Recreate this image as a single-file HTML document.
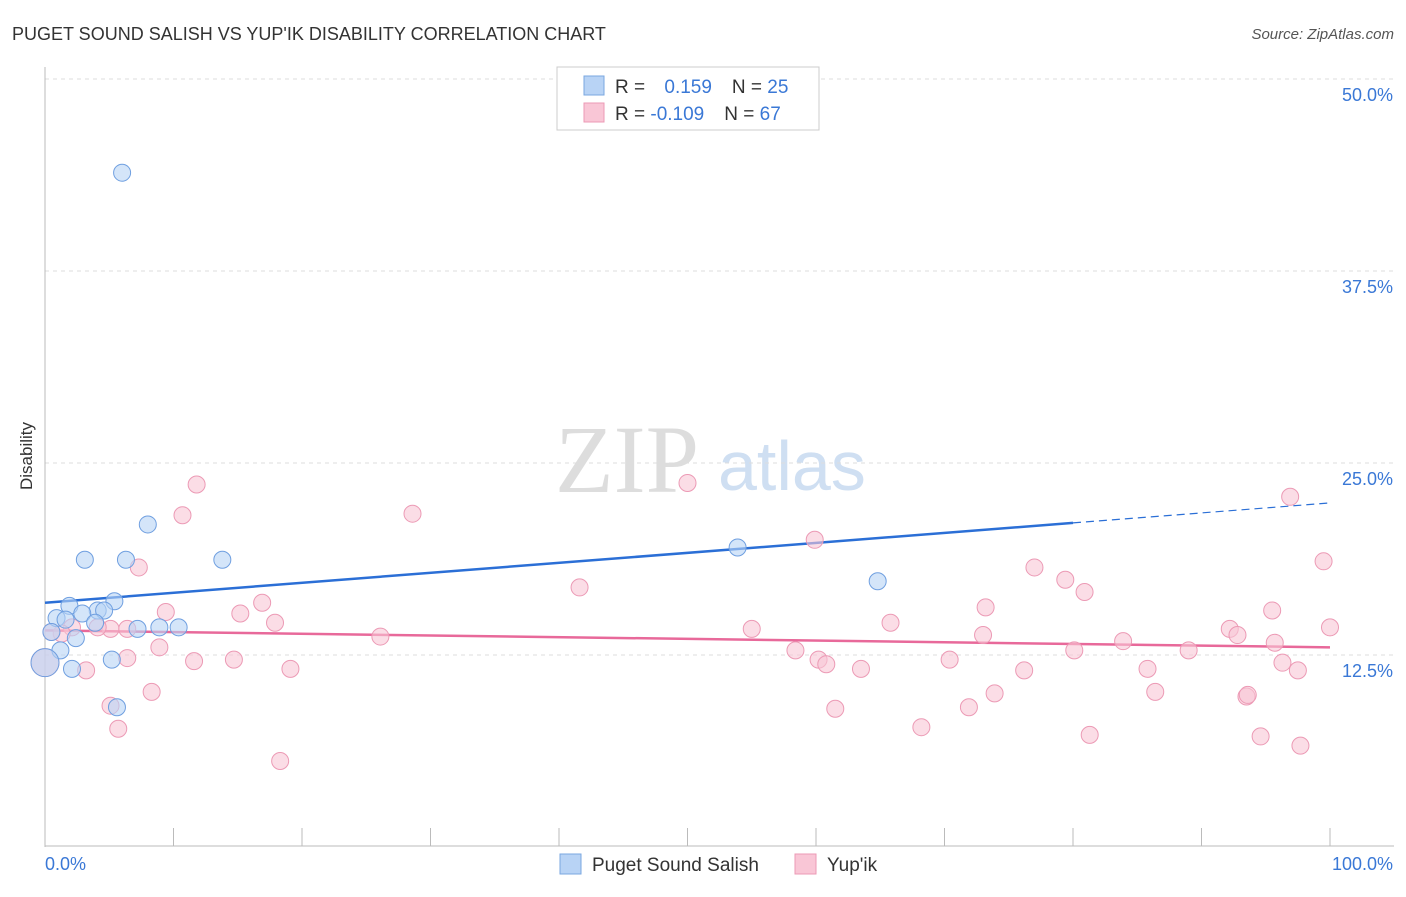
<!DOCTYPE html>
<html><head><meta charset="utf-8"><style>
body{margin:0;background:#fff;font-family:"Liberation Sans",sans-serif;}
</style></head><body>
<svg id="c" width="1406" height="892" xmlns="http://www.w3.org/2000/svg">
<text x="12" y="40" font-size="18" fill="#333">PUGET SOUND SALISH VS YUP'IK DISABILITY CORRELATION CHART</text>
<text x="1394" y="39" font-size="15" fill="#555" font-style="italic" text-anchor="end">Source: ZipAtlas.com</text>
<text x="32" y="456" font-size="17" fill="#333" transform="rotate(-90 32 456)" text-anchor="middle">Disability</text>
<text x="555" y="492" font-size="96" fill="#ddd" font-family="Liberation Serif">ZIP</text>
<text x="718" y="490" font-size="70" fill="#cfdff2">atlas</text>
<g id="grid"></g><g id="axes"></g><g id="trend"></g><g id="pts"></g>
<g>
<rect x="557" y="67" width="262" height="63" fill="#fff" stroke="#ccc"/>
<rect x="584" y="76" width="20" height="19" fill="#b8d3f5" stroke="#7aa7e0"/>
<rect x="584" y="103" width="20" height="19" fill="#f9c6d6" stroke="#ec9ab5"/>
<text x="615" y="93" font-size="19" fill="#333">R = <tspan fill="#3a78d6" dx="14">0.159</tspan><tspan dx="20" fill="#333">N = </tspan><tspan fill="#3a78d6">25</tspan></text>
<text x="615" y="120" font-size="19" fill="#333">R = <tspan fill="#3a78d6">-0.109</tspan><tspan dx="20" fill="#333">N = </tspan><tspan fill="#3a78d6">67</tspan></text>
</g>
<g>
<rect x="560" y="854" width="21" height="20" fill="#b8d3f5" stroke="#7aa7e0"/>
<text x="592" y="871" font-size="19" fill="#333">Puget Sound Salish</text>
<rect x="795" y="854" width="21" height="20" fill="#f9c6d6" stroke="#ec9ab5"/>
<text x="827" y="871" font-size="19" fill="#333">Yup'ik</text>
</g>
</svg>
<script>
const yTicks=[12.5,25,37.5,50];
const yTickLabels=["12.5%","25.0%","37.5%","50.0%"];
const blueX=[6.0,8.0,3.1,6.3,13.8,53.9,64.8,5.4,1.9,4.1,4.6,2.9,0.9,1.6,3.9,8.9,10.4,7.2,0.5,2.4,1.2,5.2,2.1,5.6,0];
const blueY=[43.9,21.0,18.7,18.7,18.7,19.5,17.3,16.0,15.7,15.4,15.4,15.2,14.9,14.8,14.6,14.3,14.3,14.2,14.0,13.6,12.8,12.2,11.6,9.1,12.0];
const pinkX=[11.8,10.7,7.3,28.6,50.0,59.9,41.6,16.9,9.4,15.2,17.9,5.1,6.4,4.1,2.1,1.3,0.5,26.1,8.9,6.4,11.6,14.7,19.1,3.2,8.3,5.1,5.7,18.3,55.0,58.4,60.2,60.8,61.5,63.5,65.8,68.2,70.4,71.9,73.0,73.2,73.9,76.2,77.0,79.4,80.9,80.1,81.3,83.9,85.8,86.4,89.0,92.2,92.8,93.5,93.6,94.6,95.5,95.7,96.3,96.9,97.5,97.7,99.5,100,0];
const pinkY=[23.6,21.6,18.2,21.7,23.7,20.0,16.9,15.9,15.3,15.2,14.6,14.2,14.2,14.3,14.3,13.9,14.0,13.7,13.0,12.3,12.1,12.2,11.6,11.5,10.1,9.2,7.7,5.6,14.2,12.8,12.2,11.9,9.0,11.6,14.6,7.8,12.2,9.1,13.8,15.6,10.0,11.5,18.2,17.4,16.6,12.8,7.3,13.4,11.6,10.1,12.8,14.2,13.8,9.8,9.9,7.2,15.4,13.3,12.0,22.8,11.5,6.6,18.6,14.3,12.0];
const X=v=>45+v*12.85, Y=v=>847-v*192/12.5;
const NS="http://www.w3.org/2000/svg";
function mk(p,t,a){const e=document.createElementNS(NS,t);for(const k in a)e.setAttribute(k,a[k]);document.getElementById(p).appendChild(e);return e;}
yTicks.forEach((t,i)=>{
 const l=mk('grid','line',{x1:45,x2:1394,y1:Y(t),y2:Y(t),stroke:'#ddd','stroke-dasharray':'4 4'});
 
 
 const tx=mk('grid','text',{x:1393,y:Y(t)+22,'font-size':18,fill:'#3a78d6','text-anchor':'end'});
 tx.textContent=yTickLabels[i];
 
 
});
mk('axes','line',{x1:45,x2:45,y1:67,y2:847,stroke:'#bbb'});
mk('axes','line',{x1:45,x2:1394,y1:846,y2:846,stroke:'#bbb'});
for(let i=1;i<=10;i++){mk('axes','line',{x1:X(i*10),x2:X(i*10),y1:828,y2:846,stroke:'#bbb'});}
let t0=mk('axes','text',{x:45,y:870,'font-size':18,fill:'#3a78d6'});t0.textContent='0.0%';


let t1=mk('axes','text',{x:1393,y:870,'font-size':18,fill:'#3a78d6','text-anchor':'end'});t1.textContent='100.0%';


pinkX.forEach((x,i)=>{const c=mk('pts','circle',{cx:X(x),cy:Y(pinkY[i]),r:i==pinkX.length-1?14:8.5,fill:'#f9c6d6','fill-opacity':0.6,stroke:'#ec9ab5'});
 
 });
blueX.forEach((x,i)=>{const c=mk('pts','circle',{cx:X(x),cy:Y(blueY[i]),r:i==blueX.length-1?14:8.5,fill:'#b8d3f5','fill-opacity':0.6,stroke:'#6f9fe0'});
 
 });
const [ba,bb]=[15.9,0.065],[pa,pb]=[14.1,-0.011];
const bl=mk('trend','line',{x1:X(0),y1:Y(ba),x2:X(80),y2:Y(ba+bb*80),stroke:'#2b6fd6','stroke-width':2.5});


mk('trend','line',{x1:X(80),y1:Y(ba+bb*80),x2:X(100),y2:Y(ba+bb*100),stroke:'#2b6fd6','stroke-width':1.2,'stroke-dasharray':'8 5'});
const pl=mk('trend','line',{x1:X(0),y1:Y(pa),x2:X(100),y2:Y(pa+pb*100),stroke:'#e8699a','stroke-width':2.5});


</script>
</body></html>
